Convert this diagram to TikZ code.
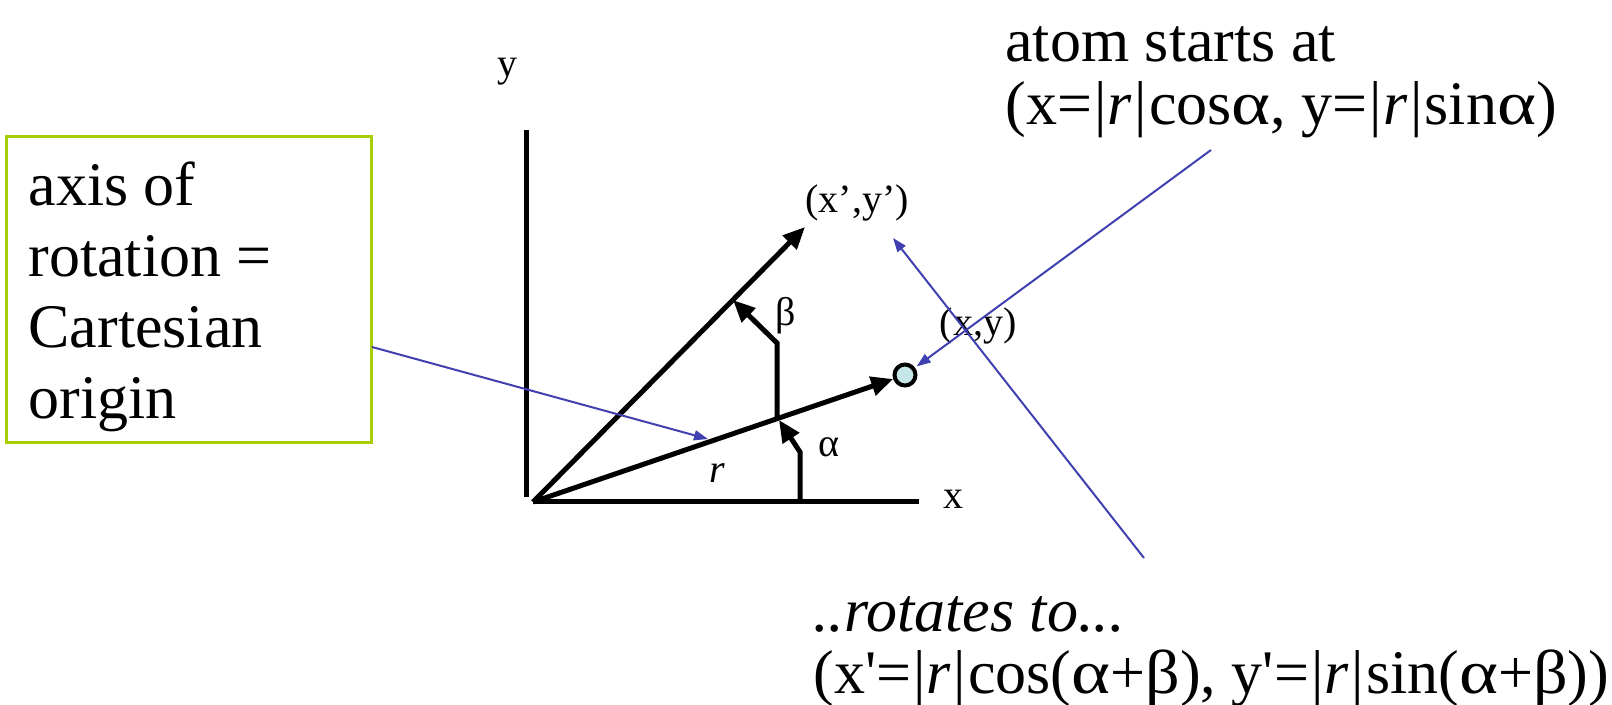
\documentclass[tikz,border=0pt]{standalone}
\usepackage{fontspec}
\usepackage{graphicx}
\setmainfont{Liberation Serif}
\usetikzlibrary{arrows.meta,positioning}
\definecolor{linkblue}{RGB}{64,64,176}
\definecolor{boxgreen}{RGB}{166,206,0}
\definecolor{atomcyan}{RGB}{196,230,230}
\newcommand{\galpha}{\scalebox{1.2}[1]{α}}
\newcommand{\gbeta}{\scalebox{1.1}[1]{β}}
\newcommand{\absr}{\kern1pt|\kern0.5pt\textit{r}\kern1.5pt|\kern1pt}
\tikzset{
  axisline/.style={
    line width=2.5pt
  },
  vec/.style={
    line width=2.5pt,
    -{Triangle[length=11pt,width=9.5pt]}
  },
  pointer/.style={
    draw=linkblue,
    line width=1pt,
    -{Triangle[length=7pt,width=5pt]}
  },
  atom/.style={
    shape=circle,
    draw,
    line width=2pt,
    fill=atomcyan,
    minimum size=10.5pt,
    inner sep=0pt
  },
  smalltext/.style={
    font=\fontsize{20}{24}\selectfont,
    inner sep=0pt
  },
  bigtext/.style={
    anchor=base west,
    align=flush left,
    inner sep=0pt,
    font=\fontsize{31}{31.5}\selectfont
  }
}
\begin{document}
\begin{tikzpicture}[x=0.5pt,y=-0.5pt]
        \useasboundingbox (0,0) rectangle (1612,705);
        % axes
        \coordinate (O) at (533,502);
        \coordinate (ybot) at (526,497);
        \coordinate (ytop) at (526,130);
        \coordinate (xend) at (919,502);
        \draw[axisline] (ybot) -- (ytop);
        \draw[axisline] (O) -- (xend);
        \node[smalltext, anchor=base] (ylab) at (507,77) {y};
        \node[smalltext, anchor=base] (xlab) at (953,509) {x};
        % vectors
        \node[atom] (atom) at (905,375) {};
        \coordinate (xp) at (805,227);
        \draw[vec] (O) -- (xp);
        \draw[vec] (O) -- (atom);
        \node[smalltext, anchor=base] (xyp) at (857,213) {(x',y')};
        \node[smalltext, anchor=base] (xy) at (978,336) {(x,y)};
        \node[smalltext, anchor=base] (rlab) at (717,483) {\textit{r}};
        % angles
        \coordinate (a0) at (800,503);
        \coordinate (a1) at (800,452);
        \coordinate (a2) at (779,420);
        \draw[vec] (a0) -- (a1) -- (a2);
        \node[smalltext, anchor=base] (alab) at (829,457) {α};
        \coordinate (b0) at (777,419);
        \coordinate (b1) at (777,343);
        \coordinate (b2) at (733,300);
        \draw[vec] (b0) -- (b1) -- (b2);
        \node[smalltext, anchor=base] (blab) at (786,326) {β};
        % texts
        \node[draw=boxgreen, line width=1.5pt, minimum width=182.5pt, minimum height=153pt,
              text width=160pt, align=flush left, inner sep=0pt, text depth=106pt,
              font=\fontsize{31}{35.5}\selectfont] (box) at (188.5,290)
              {axis of\\rotation =\\Cartesian\\origin};
        \node[bigtext, text width=300pt] (start) at (1005,62)
              {atom starts at\\(x=\absr cos\galpha, y=\absr sin\galpha)};
        \node[bigtext, text width=400pt] (rot) at (813,631)
              {\textit{..rotates to...}\\(x\textquotesingle=\absr cos(\galpha+\gbeta), y\textquotesingle=\absr sin(\galpha+\gbeta))};
        % pointers
        \coordinate (s1) at (372,347);
        \coordinate (t1) at (708,439);
        \coordinate (s2) at (1211,150);
        \coordinate (s3) at (1144,558);
        \coordinate (t3) at (893,238);
        \draw[pointer] (s1) -- (t1);
        \draw[pointer, shorten >=1pt] (s2) -- (atom);
        \draw[pointer] (s3) -- (t3);
\end{tikzpicture}
\end{document}
